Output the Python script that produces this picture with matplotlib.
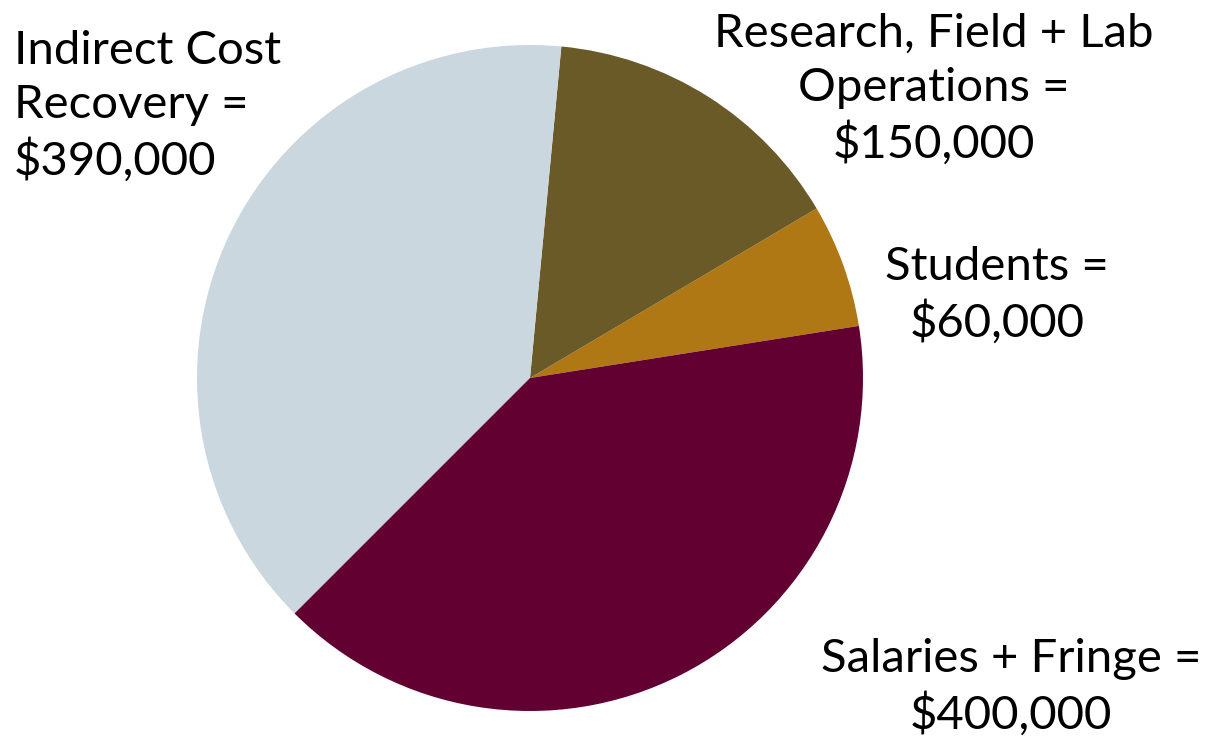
import matplotlib.pyplot as plt

# budget split, in dollars (counter-clockwise from the right-hand edge)
categories = ['Students', 'Research, Field + Lab Operations', 'Indirect Cost Recovery', 'Salaries + Fringe']
amounts = [60000, 150000, 390000, 400000]
colors = ['#B07815', '#695A28', '#CAD7DF', '#620032']
labels = [
    'Students =\n$60,000',
    'Research, Field + Lab\nOperations =\n$150,000',
    'Indirect Cost\nRecovery =\n$390,000',
    'Salaries + Fringe =\n$400,000',
]

plt.rcParams['font.family'] = ['Lato', 'DejaVu Sans']

W, H = 1210, 740
fig = plt.figure(figsize=(W / 100, H / 100), dpi=100)
ax = fig.add_axes([0, 0, 1, 1])

ax.pie(amounts, colors=colors, startangle=9, counterclock=True,
       center=(530, H - 378), radius=333, wedgeprops={'linewidth': 0})
ax.set_xlim(0, W)
ax.set_ylim(0, H)
ax.set_aspect('equal')
ax.axis('off')

# label placement: (x, last-line baseline in px from top, alignment)
spots = [
    (997, 337, 'center'),
    (934, 158, 'center'),
    (14, 175, 'left'),
    (1011, 729, 'center'),
]
for lab, (x, y, ha) in zip(labels, spots):
    ax.text(x, H - y, lab, ha=ha, va='baseline', ma=ha, fontsize=34,
            color='black', linespacing=1.34)

fig.savefig('out.png', dpi=100)
